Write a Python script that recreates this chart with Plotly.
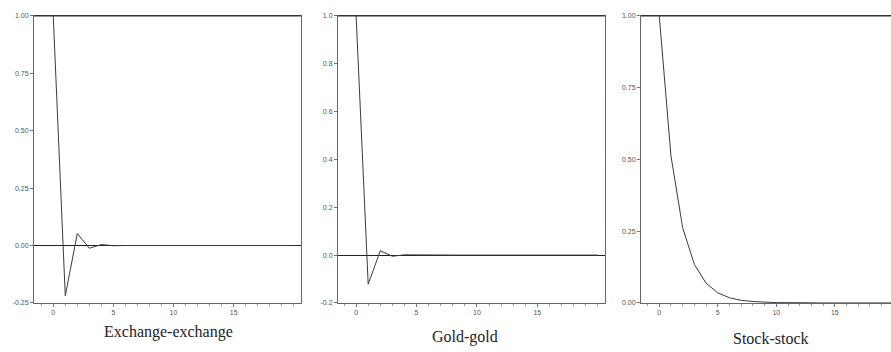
import plotly.graph_objects as go

horizon = list(range(21))
exchange_exchange = [1.0, -0.219, 0.052, -0.012, 0.004, -0.001, 0.0, 0.0, 0.0, 0.0, 0.0,
                     0.0, 0.0, 0.0, 0.0, 0.0, 0.0, 0.0, 0.0, 0.0, 0.0]
gold_gold = [1.0, -0.122, 0.018, -0.005, 0.001, 0.0, 0.0, 0.0, 0.0, 0.0, 0.0,
             0.0, 0.0, 0.0, 0.0, 0.0, 0.0, 0.0, 0.0, 0.0, 0.0]
stock_stock = [1.0, 0.512, 0.262, 0.134, 0.069, 0.035, 0.018, 0.009, 0.005, 0.002, 0.001,
               0.001, 0.0, 0.0, 0.0, 0.0, 0.0, 0.0, 0.0, 0.0, 0.0]

titles = ["Exchange-exchange", "Gold-gold", "Stock-stock"]
y_ticks = [[-0.25, 0.0, 0.25, 0.5, 0.75, 1.0], [-0.2, 0.0, 0.2, 0.4, 0.6, 0.8, 1.0],
           [0.0, 0.25, 0.5, 0.75, 1.0]]
y_ticktext = [["-0.25", "0.00", "0.25", "0.50", "0.75", "1.00"],
              ["-0.2", "0.0", "0.2", "0.4", "0.6", "0.8", "1.0"],
              ["0.00", "0.25", "0.50", "0.75", "1.00"]]
x_ticks = [0, 5, 10, 15]

W, H = 891, 352
x_domains = [[34 / W, 301 / W], [338 / W, 605 / W], [641 / W, 1.0]]
x_ranges = [[-1.6, 20.6], [-1.5, 20.6], [-1.56, 19.8]]
y_ranges = [[-0.25, 1.0], [-0.2, 1.0], [0.0, 1.0]]
y_dom = [1 - 305 / H, 1 - 12 / H]
title_x = [168, 465, 771]
title_y = [335, 340, 341]

series = [exchange_exchange, gold_gold, stock_stock]

fig = go.Figure()
tickfont = dict(family="Liberation Sans Narrow, Arial Narrow, Liberation Sans, sans-serif",
                size=7, color="#555555")
for i in range(3):
    sfx = "" if i == 0 else str(i + 1)
    fig.add_trace(go.Scatter(x=horizon, y=series[i], mode="lines",
                             line=dict(color="#3a3a3a", width=1),
                             xaxis="x" + sfx, yaxis="y" + sfx, showlegend=False))
    fig.layout["xaxis" + sfx] = dict(
        domain=x_domains[i], range=x_ranges[i], anchor="y" + sfx,
        tickvals=x_ticks, ticks="outside", ticklen=3, tickcolor="#777",
        minor=dict(dtick=1, tick0=0, ticks="outside", ticklen=2, tickcolor="#999"),
        showline=True, linecolor="#666", linewidth=1, mirror=True,
        showgrid=False, zeroline=False, tickfont=tickfont, fixedrange=True)
    fig.layout["yaxis" + sfx] = dict(
        domain=y_dom, range=y_ranges[i], anchor="x" + sfx,
        tickvals=y_ticks[i], ticktext=y_ticktext[i], ticks="outside", ticklen=3,
        tickcolor="#777", showline=True, linecolor="#666", linewidth=1,
        mirror=(i < 2), showgrid=False, zeroline=(i < 2), zerolinecolor="#222",
        zerolinewidth=1.2, tickfont=tickfont, fixedrange=True)
    fig.add_shape(type="line", xref="paper", yref="paper",
                  x0=x_domains[i][0], x1=x_domains[i][1], y0=y_dom[1], y1=y_dom[1],
                  line=dict(color="#333", width=1.3))
    fig.add_annotation(text=titles[i], xref="paper", yref="paper",
                       x=title_x[i] / W, y=1 - title_y[i] / H,
                       yanchor="middle", xanchor="center", showarrow=False,
                       font=dict(family="Liberation Serif, Times New Roman, serif",
                                 size=16, color="#222"))

fig.update_layout(width=W, height=H, margin=dict(l=0, r=0, t=0, b=0),
                  plot_bgcolor="white", paper_bgcolor="white")
fig.write_html("out.html")
